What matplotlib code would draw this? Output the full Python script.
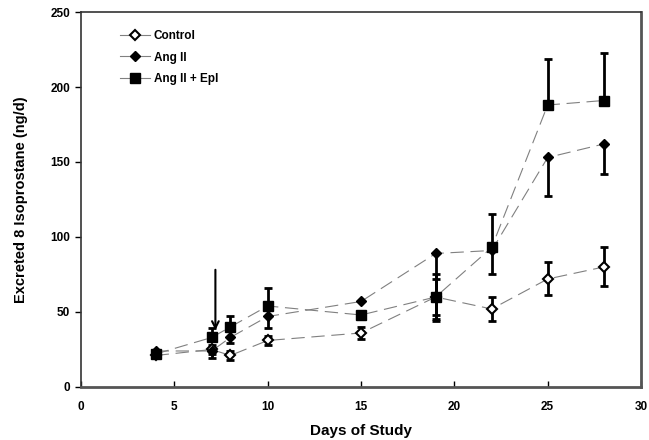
import matplotlib
matplotlib.use("Agg")
import matplotlib.pyplot as plt
from matplotlib.lines import Line2D

plt.rcParams['font.family'] = ['Liberation Sans', 'DejaVu Sans']
plt.rcParams['font.weight'] = 'bold'

days = [4, 7, 8, 10, 15, 19, 22, 25, 28]
control = [21, 25, 21, 31, 36, 60, 52, 72, 80]
control_lo = [2, 3, 3, 3, 4, 12, 8, 11, 13]
control_hi = [2, 3, 3, 3, 4, 12, 8, 11, 13]

ang2 = [24, 24, 33, 47, 57, 89, 91, 153, 162]
ang2_lo = [2, 5, 4, 8, 0, 45, 0, 26, 20]
ang2_hi = [0, 0, 0, 0, 0, 0, 0, 0, 0]

ang2_epl = [22, 33, 40, 54, 48, 60, 93, 188, 191]
epl_lo = [0, 0, 0, 0, 0, 15, 18, 0, 0]
epl_hi = [2, 6, 7, 12, 0, 15, 22, 31, 32]

arrow_x = 7.2
arrow_top = 80
arrow_tip = 36

fig = plt.figure(figsize=(6.49, 4.40), dpi=100)
ax = fig.add_axes([0.1248, 0.1205, 0.8629, 0.8522])

line_kw = dict(color='#808080', lw=0.8, dashes=(12, 6))
err_kw = dict(ecolor='black', elinewidth=2.0, capsize=3, capthick=2.0, fmt='none', zorder=3)

ax.errorbar(days, control, yerr=[control_lo, control_hi], **err_kw)
ax.errorbar(days, ang2, yerr=[ang2_lo, ang2_hi], **err_kw)
ax.errorbar(days, ang2_epl, yerr=[epl_lo, epl_hi], **err_kw)

ax.plot(days, control, **line_kw, zorder=2)
ax.plot(days, ang2, **line_kw, zorder=2)
ax.plot(days, ang2_epl, **line_kw, zorder=2)

ax.plot(days, control, ls='none', marker='D', ms=5.5, mfc='white', mec='black', mew=1.5, zorder=4)
ax.plot(days, ang2, ls='none', marker='D', ms=5.5, mfc='black', mec='black', zorder=4)
ax.plot(days, ang2_epl, ls='none', marker='s', ms=6.5, mfc='black', mec='black', zorder=4)

h = [Line2D([], [], color='#808080', lw=0.8, marker='D', ms=5.5, mfc='white', mec='black', mew=1.5),
     Line2D([], [], color='#808080', lw=0.8, marker='D', ms=5.5, mfc='black', mec='black'),
     Line2D([], [], color='#808080', lw=0.8, marker='s', ms=6.5, mfc='black', mec='black')]
ax.legend(h, ['Control', 'Ang II', 'Ang II + Epl'], loc='upper left',
          bbox_to_anchor=(0.05, 0.98), frameon=False, handlelength=2.6,
          labelspacing=0.8, handletextpad=0.3, prop={'weight': 'bold', 'size': 8.5})

ax.annotate('', xy=(arrow_x, arrow_tip), xytext=(arrow_x, arrow_top),
            arrowprops=dict(arrowstyle='->', color='black', lw=1.5, mutation_scale=12))

ax.set_xlim(0, 30)
ax.set_ylim(0, 250)
ax.set_xticks(range(0, 31, 5))
ax.set_yticks(range(0, 251, 50))
ax.tick_params(axis='x', direction='in', length=4, width=1, labelsize=8.5, pad=10)
ax.tick_params(axis='y', direction='out', length=4, width=1, labelsize=8.5, pad=4)
for lab in ax.get_xticklabels() + ax.get_yticklabels():
    lab.set_fontweight('bold')
ax.set_xlabel('Days of Study', fontsize=11, fontweight='bold', labelpad=8)
ax.set_ylabel('Excreted 8 Isoprostane (ng/d)', fontsize=10.5, fontweight='bold', labelpad=16)
for s in ax.spines.values():
    s.set_color('#333333')
    s.set_linewidth(1.2)
ax.spines['bottom'].set_linewidth(2)
ax.spines['right'].set_linewidth(2)
ax.spines['bottom'].set_color('#555555')
ax.spines['right'].set_color('#555555')

fig.savefig('out.png', dpi=100)
